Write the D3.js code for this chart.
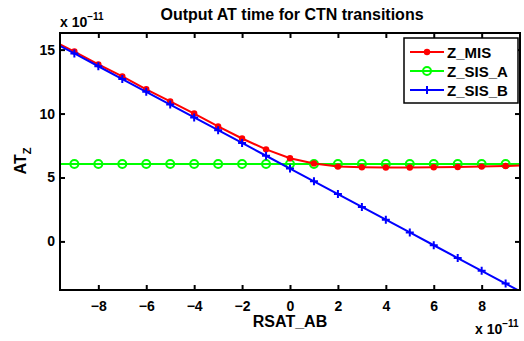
<!DOCTYPE html>
<html>
<head>
<meta charset="utf-8">
<script src="https://cdn.jsdelivr.net/npm/d3@7"></script>
<style>
  body { margin: 0; background: #fff; }
  svg text { font-family: "Liberation Sans", Arial, sans-serif; font-weight: bold; }
</style>
</head>
<body>
<svg id="chart"></svg>
<script>
// values are in units of 1e-11 (axes show the "x 10^-11" multiplier)
const rsat = [-10, -9, -8, -7, -6, -5, -4, -3, -2, -1, 0, 1, 2, 3, 4, 5, 6, 7, 8, 9, 10];
const zMis = [15.8, 14.85, 13.85, 12.9, 11.9, 10.95, 10.0, 9.0, 8.05, 7.2, 6.5, 6.1, 5.85, 5.8, 5.78, 5.78, 5.8, 5.82, 5.85, 5.9, 5.95];
const zSisA = [6.05, 6.05, 6.05, 6.05, 6.05, 6.05, 6.05, 6.05, 6.05, 6.05, 6.05, 6.05, 6.05, 6.05, 6.05, 6.05, 6.05, 6.05, 6.05, 6.05, 6.05];
const zSisB = [15.7, 14.7, 13.7, 12.7, 11.7, 10.7, 9.7, 8.7, 7.7, 6.7, 5.7, 4.7, 3.7, 2.7, 1.7, 0.7, -0.3, -1.3, -2.3, -3.3, -4.3];
const xTicks = [-8, -6, -4, -2, 0, 2, 4, 6, 8];
const yTicks = [0, 5, 10, 15];
const seriesNames = ["Z_MIS", "Z_SIS_A", "Z_SIS_B"];

const w = 524, h = 341;
const margin = { top: 33, right: 4, bottom: 51, left: 60 };
const chartW = w - margin.left - margin.right;
const chartH = h - margin.top - margin.bottom;

const svg = d3.select("#chart").attr("width", w).attr("height", h);

const xScale = d3.scaleLinear().domain([-9.6, 9.6]).range([0, chartW]);
const yScale = d3.scaleLinear().domain([-3.8, 16.3]).range([chartH, 0]);

const chart = svg.append("g")
  .attr("transform", `translate(${margin.left}, ${margin.top})`);

svg.append("defs").append("clipPath").attr("id", "clip")
  .append("rect").attr("width", chartW).attr("height", chartH);

// axes (MATLAB style box, ticks inward)
function styleAxis(g) {
  g.select(".domain").remove();
  g.selectAll(".tick line").attr("stroke", "#000").attr("stroke-width", 2);
  g.selectAll(".tick text").style("font-size", "14px").attr("fill", "#000");
}

chart.append("g")
  .attr("transform", `translate(0, ${chartH})`)
  .call(d3.axisBottom(xScale).tickValues(xTicks).tickSize(-5).tickPadding(11)
    .tickFormat(d => d3.format("")(d).replace("-", "\u2212")))
  .call(styleAxis);
chart.append("g")
  .call(d3.axisTop(xScale).tickValues(xTicks).tickSize(-5).tickFormat(""))
  .call(styleAxis);
chart.append("g")
  .call(d3.axisLeft(yScale).tickValues(yTicks).tickSize(-5).tickPadding(5))
  .call(styleAxis);
chart.append("g")
  .attr("transform", `translate(${chartW}, 0)`)
  .call(d3.axisRight(yScale).tickValues(yTicks).tickSize(-5).tickFormat(""))
  .call(styleAxis);

const data = seriesNames.map((name, i) => ({
  name,
  values: rsat.map((x, j) => [x, [zMis, zSisA, zSisB][i][j]])
}));
const colors = ["#ff0000", "#00ff00", "#0000ff"];

const plot = chart.append("g").attr("clip-path", "url(#clip)");
const line = d3.line().x(d => xScale(d[0])).y(d => yScale(d[1]));

// draw green first, then red, then blue on top
[1, 0, 2].forEach(i => {
  const s = data[i];
  plot.append("path")
    .datum(s.values)
    .attr("fill", "none")
    .attr("stroke", colors[i])
    .attr("stroke-width", 2)
    .attr("d", line);
  drawMarkers(plot, s.values, i);
});

function drawMarkers(g, vals, i) {
  const m = g.selectAll(null).data(vals).enter();
  if (i === 0) {
    m.append("circle")
      .attr("cx", d => xScale(d[0])).attr("cy", d => yScale(d[1]))
      .attr("r", 3.2).attr("fill", colors[0]);
  } else if (i === 1) {
    m.append("circle")
      .attr("cx", d => xScale(d[0])).attr("cy", d => yScale(d[1]))
      .attr("r", 4).attr("fill", "none")
      .attr("stroke", colors[1]).attr("stroke-width", 2);
  } else {
    m.append("path")
      .attr("transform", d => `translate(${xScale(d[0])}, ${yScale(d[1])})`)
      .attr("d", "M-4,0H4M0,-4V4")
      .attr("stroke", colors[2]).attr("stroke-width", 2);
  }
}

// box
chart.append("rect")
  .attr("width", chartW).attr("height", chartH)
  .attr("fill", "none").attr("stroke", "#000").attr("stroke-width", 2);

// legend
const legend = chart.append("g").attr("transform", "translate(344, 5)");
legend.append("rect")
  .attr("width", 114).attr("height", 65)
  .attr("fill", "#fff").attr("stroke", "#000").attr("stroke-width", 1.5);
data.forEach((s, i) => {
  const gy = 14 + i * 19;
  const row = legend.append("g");
  row.append("line")
    .attr("x1", 6).attr("x2", 40).attr("y1", gy).attr("y2", gy)
    .attr("stroke", colors[i]).attr("stroke-width", 2);
  const mg = row.append("g");
  drawMarkers(mg, [[xScale.invert(23), yScale.invert(gy)]], i);
  row.append("text")
    .attr("x", 43).attr("y", gy + 5.5)
    .style("font-size", "15px")
    .text(s.name);
});

// title
svg.append("text")
  .attr("x", 292).attr("y", 20)
  .attr("text-anchor", "middle")
  .style("font-size", "16px")
  .text("Output AT time for CTN transitions");

// exponent labels
function expLabel(x, y) {
  const t = svg.append("text").attr("x", x).attr("y", y).style("font-size", "14px");
  t.append("tspan").text("x 10");
  t.append("tspan").attr("dy", -7).style("font-size", "10px").text("\u221211");
}
expLabel(60, 27);
expLabel(475, 334);

// axis titles
svg.append("text")
  .attr("x", margin.left + xScale(0))
  .attr("y", 327)
  .attr("text-anchor", "middle")
  .style("font-size", "16px")
  .text("RSAT_AB");

const yl = svg.append("text")
  .attr("transform", `translate(26, 161) rotate(-90)`)
  .attr("text-anchor", "middle")
  .style("font-size", "16px");
yl.append("tspan").text("AT");
yl.append("tspan").attr("dy", 5).style("font-size", "11px").text("Z");
</script>
</body>
</html>
